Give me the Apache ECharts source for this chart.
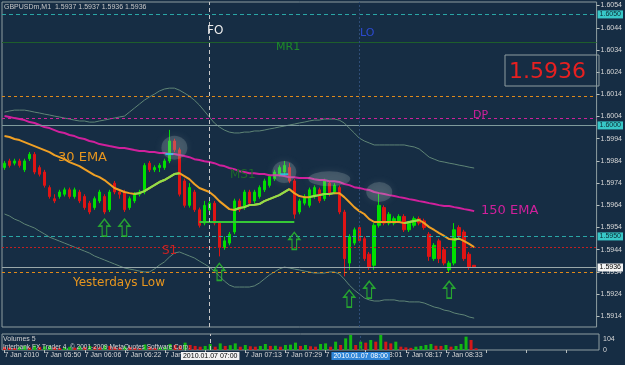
<!DOCTYPE html>
<html>
<head>
<meta charset="utf-8">
<script src="https://cdn.jsdelivr.net/npm/echarts@6/dist/echarts.min.js"></script>
<style>
html,body{margin:0;padding:0;background:#162d44;}
#chart{width:625px;height:365px;}
</style>
</head>
<body>
<div id="chart"></div>
<script>
// ---- Data (GBPUSDm, M1) ----
const candleOpen = [1.5981,1.5984,1.5983,1.5984,1.5980,1.5985,1.5987,1.5981,1.5979,1.5972,1.5967,1.5968,1.5969,1.5971,1.5968,1.5970,1.5968,1.5965,1.5963,1.5966,1.5968,1.5962,1.5974,1.5970,1.5970,1.5963,1.5966,1.5969,1.5970,1.5983,1.5980,1.5981,1.5981,1.5984,1.5993,1.5989,1.5975,1.5964,1.5970,1.5962,1.5956,1.5962,1.5965,1.5956,1.5945,1.5947,1.5952,1.5966,1.5963,1.5970,1.5966,1.5968,1.5971,1.5973,1.5976,1.5978,1.5979,1.5981,1.5975,1.5961,1.5965,1.5964,1.5968,1.5971,1.5967,1.5974,1.5970,1.5972,1.5961,1.5938,1.5947,1.5954,1.5949,1.5942,1.5937,1.5955,1.5963,1.5956,1.5956,1.5957,1.5959,1.5953,1.5955,1.5958,1.5957,1.5951,1.5940,1.5948,1.5944,1.5935,1.5938,1.5954,1.5952,1.5942,1.5937];
const candleClose = [1.5983,1.5982,1.5984,1.5982,1.5984,1.5987,1.5979,1.5978,1.5973,1.5968,1.5966,1.5970,1.5971,1.5968,1.5971,1.5966,1.5963,1.5961,1.5967,1.5970,1.5961,1.5970,1.5970,1.5969,1.5962,1.5967,1.5969,1.5970,1.5982,1.5980,1.5981,1.5982,1.5984,1.5993,1.5989,1.5969,1.5964,1.5972,1.5962,1.5955,1.5964,1.5965,1.5956,1.5945,1.5948,1.5951,1.5966,1.5962,1.5970,1.5965,1.5970,1.5972,1.5975,1.5977,1.5979,1.5981,1.5982,1.5975,1.5960,1.5966,1.5968,1.5971,1.5972,1.5966,1.5975,1.5969,1.5973,1.5961,1.5940,1.5950,1.5953,1.5948,1.5940,1.5936,1.5955,1.5964,1.5956,1.5960,1.5958,1.5959,1.5953,1.5956,1.5958,1.5956,1.5954,1.5941,1.5946,1.5940,1.5938,1.5938,1.5953,1.5950,1.5940,1.5936,1.5936];
const candleLow = [1.5980,1.5981,1.5982,1.5981,1.5979,1.5984,1.5978,1.5977,1.5972,1.5967,1.5965,1.5967,1.5968,1.5967,1.5967,1.5965,1.5962,1.5960,1.5962,1.5965,1.5960,1.5961,1.5969,1.5967,1.5961,1.5962,1.5965,1.5968,1.5969,1.5979,1.5979,1.5979,1.5980,1.5983,1.5988,1.5968,1.5963,1.5963,1.5961,1.5954,1.5955,1.5960,1.5955,1.5941,1.5944,1.5946,1.5951,1.5961,1.5962,1.5964,1.5965,1.5967,1.5970,1.5972,1.5975,1.5977,1.5978,1.5974,1.5958,1.5960,1.5964,1.5963,1.5967,1.5965,1.5966,1.5968,1.5969,1.5960,1.5932,1.5935,1.5946,1.5947,1.5939,1.5935,1.5935,1.5954,1.5955,1.5955,1.5955,1.5956,1.5952,1.5952,1.5954,1.5955,1.5953,1.5939,1.5939,1.5938,1.5937,1.5934,1.5937,1.5949,1.5939,1.5935,1.5936];
const candleHigh = [1.5984,1.5985,1.5985,1.5985,1.5985,1.5988,1.5988,1.5982,1.5980,1.5973,1.5969,1.5971,1.5972,1.5972,1.5972,1.5971,1.5969,1.5966,1.5968,1.5971,1.5969,1.5971,1.5975,1.5971,1.5971,1.5968,1.5970,1.5971,1.5983,1.5984,1.5982,1.5983,1.5985,1.5998,1.5994,1.5990,1.5976,1.5974,1.5971,1.5963,1.5966,1.5966,1.5966,1.5957,1.5950,1.5952,1.5967,1.5967,1.5971,1.5971,1.5971,1.5973,1.5976,1.5978,1.5980,1.5982,1.5984,1.5983,1.5976,1.5967,1.5969,1.5972,1.5973,1.5972,1.5976,1.5975,1.5974,1.5973,1.5962,1.5951,1.5954,1.5955,1.5950,1.5943,1.5956,1.5970,1.5964,1.5961,1.5959,1.5960,1.5960,1.5957,1.5959,1.5959,1.5958,1.5952,1.5947,1.5949,1.5945,1.5939,1.5956,1.5955,1.5953,1.5943,1.5937];

const ema30 = [1.59952,1.59948,1.59939,1.59934,1.59925,1.59916,1.59907,1.59898,1.59889,1.59880,1.59866,1.59857,1.59848,1.59835,1.59826,1.59817,1.59803,1.59790,1.59776,1.59767,1.59754,1.59736,1.59718,1.59709,1.59700,1.59695,1.59691,1.59695,1.59704,1.59718,1.59731,1.59745,1.59754,1.59767,1.59781,1.59785,1.59772,1.59758,1.59736,1.59718,1.59709,1.59700,1.59682,1.59659,1.59641,1.59623,1.59619,1.59628,1.59632,1.59641,1.59643,1.59646,1.59659,1.59668,1.59677,1.59686,1.59700,1.59713,1.59695,1.59682,1.59677,1.59677,1.59682,1.59686,1.59691,1.59691,1.59695,1.59695,1.59677,1.59655,1.59632,1.59614,1.59601,1.59578,1.59565,1.59565,1.59565,1.59565,1.59565,1.59565,1.59560,1.59565,1.59569,1.59574,1.59560,1.59542,1.59529,1.59515,1.59502,1.59488,1.59486,1.59490,1.59479,1.59466,1.59452];
const ema150 = [1.60042,1.60038,1.60033,1.60029,1.60024,1.60015,1.60011,1.60002,1.59993,1.59988,1.59979,1.59970,1.59966,1.59957,1.59952,1.59943,1.59939,1.59930,1.59925,1.59916,1.59912,1.59907,1.59903,1.59898,1.59898,1.59894,1.59889,1.59885,1.59885,1.59880,1.59880,1.59876,1.59876,1.59871,1.59871,1.59867,1.59862,1.59857,1.59848,1.59844,1.59839,1.59835,1.59830,1.59821,1.59817,1.59808,1.59803,1.59794,1.59790,1.59785,1.59785,1.59781,1.59781,1.59776,1.59776,1.59776,1.59772,1.59767,1.59767,1.59763,1.59763,1.59763,1.59758,1.59754,1.59754,1.59749,1.59749,1.59745,1.59736,1.59731,1.59722,1.59718,1.59713,1.59709,1.59700,1.59695,1.59691,1.59686,1.59682,1.59677,1.59673,1.59668,1.59664,1.59659,1.59655,1.59650,1.59646,1.59641,1.59637,1.59637,1.59632,1.59628,1.59623,1.59619,1.59614];
const bandUpper = [1.60060,1.60065,1.60069,1.60069,1.60069,1.60065,1.60060,1.60056,1.60051,1.60047,1.60042,1.60038,1.60033,1.60029,1.60024,1.60020,1.60020,1.60015,1.60015,1.60020,1.60024,1.60029,1.60033,1.60038,1.60042,1.60060,1.60078,1.60096,1.60114,1.60128,1.60141,1.60155,1.60164,1.60168,1.60168,1.60159,1.60146,1.60132,1.60114,1.60092,1.60065,1.60038,1.60011,1.59993,1.59979,1.59970,1.59966,1.59966,1.59970,1.59970,1.59975,1.59975,1.59979,1.59984,1.59988,1.59993,1.59997,1.60002,1.60006,1.60011,1.60015,1.60020,1.60024,1.60024,1.60029,1.60029,1.60029,1.60024,1.60011,1.59988,1.59966,1.59943,1.59930,1.59921,1.59912,1.59912,1.59912,1.59912,1.59912,1.59912,1.59912,1.59907,1.59903,1.59894,1.59876,1.59857,1.59848,1.59839,1.59835,1.59830,1.59826,1.59821,1.59817,1.59812,1.59808];
const bandLower = [1.59601,1.59592,1.59578,1.59569,1.59556,1.59547,1.59538,1.59524,1.59511,1.59497,1.59488,1.59479,1.59470,1.59461,1.59452,1.59443,1.59434,1.59425,1.59412,1.59403,1.59394,1.59385,1.59376,1.59367,1.59358,1.59353,1.59349,1.59344,1.59340,1.59340,1.59353,1.59371,1.59385,1.59407,1.59425,1.59430,1.59421,1.59412,1.59403,1.59389,1.59376,1.59362,1.59344,1.59322,1.59299,1.59281,1.59272,1.59272,1.59272,1.59272,1.59277,1.59290,1.59308,1.59326,1.59340,1.59353,1.59362,1.59358,1.59353,1.59349,1.59344,1.59340,1.59335,1.59335,1.59335,1.59340,1.59340,1.59331,1.59308,1.59281,1.59259,1.59241,1.59223,1.59214,1.59209,1.59209,1.59214,1.59214,1.59214,1.59209,1.59209,1.59205,1.59205,1.59205,1.59200,1.59191,1.59182,1.59177,1.59168,1.59164,1.59155,1.59150,1.59146,1.59137,1.59132];
const volumes = [28,22,18,30,38,24,42,30,34,40,28,20,25,30,22,34,28,38,32,26,44,38,28,24,34,28,22,18,52,30,20,24,30,56,47,40,69,47,38,31,38,56,31,62,38,45,62,31,47,35,31,38,56,38,40,31,47,50,69,38,47,35,31,56,62,31,78,47,109,141,47,78,69,94,78,141,78,62,78,31,25,20,31,38,47,56,40,38,47,31,38,56,125,94,16];

const priceTicks = [1.5914,1.5924,1.5934,1.5944,1.5954,1.5964,1.5974,1.5984,1.5994,1.6004,1.6014,1.6024,1.6034,1.6044,1.6054];
const volumeTicks = [0,104];
const timeTickLabels = ['7 Jan 2010','7 Jan 05:50','7 Jan 06:06','7 Jan 06:22','7 Jan 06:38','','7 Jan 07:13','7 Jan 07:29','7 Jan 07:45','7 Jan 08:01','7 Jan 08:17','7 Jan 08:33'];

// horizontal levels
const roundLevels = [1.6050, 1.6000, 1.5950];
const levelMR1 = 1.60376;
const levelR = 1.60132;
const levelDP = 1.60033;
const levelS1 = 1.59452;
const levelBid = 1.5936;
const levelYLow = 1.5934;
const greenLevel = 1.59565;
const greenLevelFrom = 39, greenLevelTo = 58;
const sessionFO = 41, sessionLO = 71;

// annotations on bars: [barIndex, price]
const upArrows = [[20,1.5954],[24,1.5954],[43,1.5934],[58,1.5948],[69,1.5922],[73,1.5926],[89,1.5926]];
const glowSpots = [[34,1.5990,26,24],[56,1.5979,24,22],[65,1.5976,42,15],[75,1.5970,26,20]];
const crossMarks = [[33,1.59871],[56,1.5978]];

const SLOTS = 119;
const cats = Array.from({length: SLOTS}, (_, i) => String(i));
const candleData = candleOpen.map((o, i) => [o, candleClose[i], candleLow[i], candleHigh[i]]);
const emaUp = ema30.map((v, i) => {
  const up = (i > 0 && v > ema30[i-1]) || (i < ema30.length-1 && ema30[i+1] > v);
  return up ? v : null;
});
const volData = volumes.map((v, i) => ({
  value: v,
  itemStyle: {color: (i > 0 && v >= volumes[i-1]) ? '#12b812' : '#d41818'}
}));

const FONT = '"Liberation Sans", Arial, sans-serif';
const AFONT = '"DejaVu Sans", sans-serif';
const border = '#8e9ea0';

const chart = echarts.init(document.getElementById('chart'), null, {renderer: 'canvas'});
const hLabel = (txt, bg, fg) => ({show: true, position: 'end', formatter: txt, backgroundColor: bg, color: fg,
  fontSize: 7, fontFamily: FONT, padding: [1, 2, 0, 2], distance: 1});

const option = {
  backgroundColor: '#162d44',
  animation: false,
  grid: [
    {left: 2, right: 26, top: 2, bottom: 38, show: true, borderColor: border, borderWidth: 1, backgroundColor: 'transparent'},
    {left: 2, right: 26, top: 334, bottom: 15, show: true, borderColor: border, borderWidth: 1, backgroundColor: 'transparent'}
  ],
  xAxis: [
    {type: 'category', gridIndex: 0, data: cats, boundaryGap: true,
      axisLine: {show: false}, axisTick: {show: false}, axisLabel: {show: false}, splitLine: {show: false}},
    {type: 'category', gridIndex: 1, data: cats, boundaryGap: true,
      axisLine: {show: false},
      axisTick: {show: true, interval: 7, alignWithLabel: true, length: 3, lineStyle: {color: '#b8c0c0'}},
      axisLabel: {show: true, interval: 7, align: 'left', margin: 2, fontSize: 7, fontFamily: FONT, color: '#d8d8d8',
        formatter: (v, idx) => timeTickLabels[idx / 8] || ''},
      splitLine: {show: false}}
  ],
  yAxis: [
    {type: 'value', gridIndex: 0, position: 'right', min: 1.59092, max: 1.60556, scale: true,
      axisLine: {show: false}, splitLine: {show: false},
      axisTick: {show: true, customValues: priceTicks, length: 3, lineStyle: {color: '#b8c0c0'}},
      axisLabel: {show: true, customValues: priceTicks, margin: 4, fontSize: 7, fontFamily: FONT, color: '#d8d8d8',
        formatter: v => v.toFixed(4)}},
    {type: 'value', gridIndex: 1, position: 'right', min: 0, max: 150,
      axisLine: {show: false}, splitLine: {show: false},
      axisTick: {show: false},
      axisLabel: {show: true, customValues: volumeTicks, margin: 4, fontSize: 7, fontFamily: FONT, color: '#d8d8d8'}}
  ],
  series: [
    {name: 'BandUpper', type: 'line', xAxisIndex: 0, yAxisIndex: 0, data: bandUpper, symbol: 'none', z: 2,
      lineStyle: {color: '#5f8576', width: 1}},
    {name: 'BandLower', type: 'line', xAxisIndex: 0, yAxisIndex: 0, data: bandLower, symbol: 'none', z: 2,
      lineStyle: {color: '#5f8576', width: 1},
      markLine: {silent: true, symbol: ['none', 'none'], animation: false, precision: 6,
        data: [
          {yAxis: roundLevels[0], lineStyle: {color: '#2aa6a6', type: [4, 3], width: 1}, label: hLabel('1.6050', '#38c8c8', '#0b2a33')},
          {yAxis: roundLevels[1], lineStyle: {color: '#7f9a9c', type: 'solid', width: 1}, label: hLabel('1.6000', '#38c8c8', '#0b2a33')},
          {yAxis: roundLevels[2], lineStyle: {color: '#2aa6a6', type: [4, 3], width: 1}, label: hLabel('1.5950', '#38c8c8', '#0b2a33')},
          {yAxis: levelMR1, lineStyle: {color: '#1e5e2c', type: 'solid', width: 1}, label: {show: false}},
          {yAxis: levelR, lineStyle: {color: '#e08a1a', type: [3, 3], width: 1}, label: {show: false}},
          {yAxis: levelDP, lineStyle: {color: '#d0209c', type: [3, 3], width: 1}, label: {show: false}},
          {yAxis: levelS1, lineStyle: {color: '#c42020', type: [2, 2], width: 1}, label: {show: false}},
          {yAxis: levelBid, lineStyle: {color: '#9aa8aa', type: 'solid', width: 1}, label: hLabel('1.5936', '#f4f4f4', '#000000')},
          {yAxis: levelYLow, lineStyle: {color: '#e08a1a', type: [3, 3], width: 1}, label: {show: false}},
          [{coord: [String(greenLevelFrom), greenLevel], lineStyle: {color: '#36c836', type: 'solid', width: 2}, label: {show: false}},
           {coord: [String(greenLevelTo), greenLevel]}],
          {xAxis: String(sessionFO), lineStyle: {color: '#c8c8c8', type: [4, 3], width: 1}, label: {show: false}},
          {xAxis: String(sessionLO), lineStyle: {color: '#2f4e78', type: [2, 2], width: 1}, label: {show: false}}
        ]}},
    {name: 'Candles', type: 'candlestick', xAxisIndex: 0, yAxisIndex: 0, data: candleData, barWidth: 3, z: 3,
      itemStyle: {color: '#00e000', color0: '#e01414', borderColor: '#00e000', borderColor0: '#e01414', borderWidth: 1}},
    {name: 'EMA150', type: 'line', xAxisIndex: 0, yAxisIndex: 0, data: ema150, symbol: 'none', z: 4,
      lineStyle: {color: '#d0209c', width: 2}},
    {name: 'EMA30', type: 'line', xAxisIndex: 0, yAxisIndex: 0, data: ema30, symbol: 'none', z: 4,
      lineStyle: {color: '#f0a024', width: 2}},
    {name: 'EMA30up', type: 'line', xAxisIndex: 0, yAxisIndex: 0, data: emaUp, symbol: 'none', z: 5, connectNulls: false,
      lineStyle: {color: '#8ee04a', width: 2}},
    {name: 'Glow', type: 'scatter', xAxisIndex: 0, yAxisIndex: 0, z: 6, silent: true,
      data: glowSpots.map(g => ({value: [g[0], g[1]], symbolSize: [g[2], g[3]]})),
      symbol: 'circle',
      itemStyle: {color: 'rgba(170,185,185,0.30)', shadowColor: 'rgba(200,210,210,0.45)', shadowBlur: 8}},
    {name: 'Cross', type: 'scatter', xAxisIndex: 0, yAxisIndex: 0, z: 7, silent: true,
      data: crossMarks, symbol: 'rect', symbolSize: [8, 2], itemStyle: {color: '#22d4f4'}},
    {name: 'Arrows', type: 'scatter', xAxisIndex: 0, yAxisIndex: 0, z: 7, silent: true,
      data: upArrows,
      symbol: 'path://M6,0 L12,7 L8.5,7 L8.5,17 L3.5,17 L3.5,7 L0,7 Z', symbolSize: [11, 17],
      itemStyle: {color: 'rgba(0,0,0,0)', borderColor: '#2cc42c', borderWidth: 1.4}},
    {name: 'Volumes', type: 'bar', xAxisIndex: 1, yAxisIndex: 1, data: volData, barWidth: 3, z: 2,
      markLine: {silent: true, symbol: ['none', 'none'], animation: false,
        data: [
          {xAxis: String(sessionFO), lineStyle: {color: '#c8c8c8', type: [4, 3], width: 1},
            label: {show: true, position: 'start', formatter: '2010.01.07 07:00', backgroundColor: '#f2f2f2', color: '#000',
              fontSize: 7, fontFamily: FONT, padding: [1, 2, 0, 2], distance: 2}},
          {xAxis: String(sessionLO), lineStyle: {color: '#2f4e78', type: [2, 2], width: 1},
            label: {show: true, position: 'start', formatter: '2010.01.07 08:00', backgroundColor: '#2f86d8', color: '#ffffff',
              fontSize: 7, fontFamily: FONT, padding: [1, 2, 0, 2], distance: 2}}
        ]}}
  ],
  graphic: [
    {type: 'text', x: 4, y: 7, z: 100, style: {text: 'GBPUSDm,M1  1.5937 1.5937 1.5936 1.5936', fill: '#c8c8c8', font: '7px ' + FONT, verticalAlign: 'middle'}},
    {type: 'text', x: 207, y: 31, z: 100, style: {text: 'FO', fill: '#ececec', font: '12px ' + AFONT, verticalAlign: 'middle'}},
    {type: 'text', x: 276, y: 47, z: 100, style: {text: 'MR1', fill: '#1e8a2a', font: '11px ' + AFONT, verticalAlign: 'middle'}},
    {type: 'text', x: 360, y: 33, z: 100, style: {text: 'LO', fill: '#2c4ad0', font: '11px ' + AFONT, verticalAlign: 'middle'}},
    {type: 'rect', z: 100, shape: {x: 505, y: 55, width: 94, height: 31}, style: {fill: 'none', stroke: border, lineWidth: 1}},
    {type: 'text', x: 509, y: 72, z: 100, style: {text: '1.5936', fill: '#e82020', font: '22px ' + AFONT, verticalAlign: 'middle'}},
    {type: 'text', x: 473, y: 115, z: 100, style: {text: 'DP', fill: '#d0209c', font: '11px ' + AFONT, verticalAlign: 'middle'}},
    {type: 'text', x: 58, y: 158, z: 100, style: {text: '30 EMA', fill: '#e8961e', font: '13px ' + AFONT, verticalAlign: 'middle'}},
    {type: 'text', x: 230, y: 175, z: 100, style: {text: 'MS1', fill: '#1d6a2a', font: '12px ' + AFONT, verticalAlign: 'middle'}},
    {type: 'text', x: 481, y: 211, z: 100, style: {text: '150 EMA', fill: '#d0209c', font: '13px ' + AFONT, verticalAlign: 'middle'}},
    {type: 'text', x: 162, y: 251, z: 100, style: {text: 'S1', fill: '#cc2222', font: '12px ' + AFONT, verticalAlign: 'middle'}},
    {type: 'text', x: 73, y: 283, z: 100, style: {text: 'Yesterdays Low', fill: '#e8961e', font: '12px ' + AFONT, verticalAlign: 'middle'}},
    {type: 'text', x: 3, y: 339, z: 100, style: {text: 'Volumes 5', fill: '#d0d0d0', font: '7px ' + FONT, verticalAlign: 'middle'}},
    {type: 'text', x: 3, y: 347, z: 100, style: {text: 'Interbank FX Trader 4, \u00a9 2001-2009 MetaQuotes Software Corp.', fill: '#d6d6d6', font: '6.5px ' + FONT, verticalAlign: 'middle'}}
  ]
};
chart.setOption(option);
</script>
</body>
</html>
